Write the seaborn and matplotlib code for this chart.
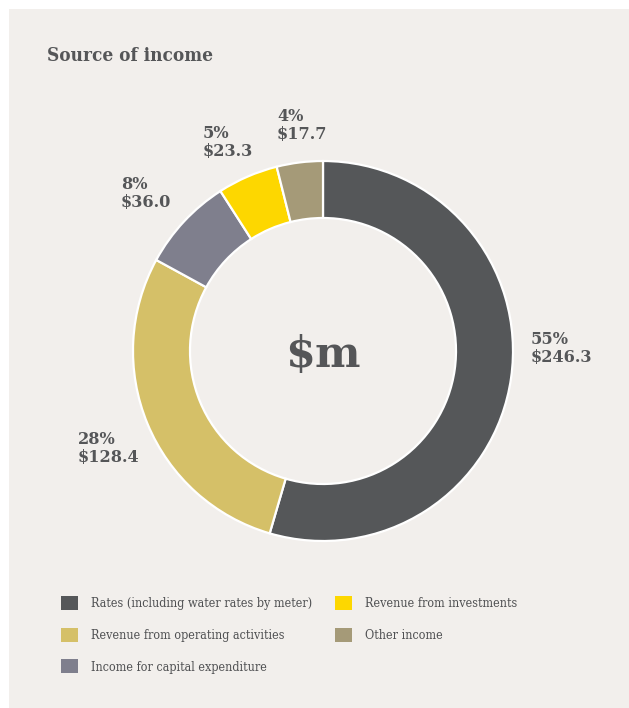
import matplotlib
matplotlib.use("Agg")
import matplotlib.pyplot as plt
from matplotlib import font_manager as fm
from matplotlib.patches import Patch, Rectangle
import seaborn as sns

# Income sources, $m
categories = [
    "Rates (including water rates by meter)",
    "Revenue from operating activities",
    "Income for capital expenditure",
    "Revenue from investments",
    "Other income",
]
amounts = [246.3, 128.4, 36.0, 23.3, 17.7]
percent_labels = ["55%", "28%", "8%", "5%", "4%"]
colors = ["#555759", "#d5c068", "#7f7f8d", "#fdd700", "#a59a78"]

title = "Source of income"
center_label = "$m"

sns.set_theme(style="white")

# Prefer a condensed slab-ish serif when one is installed
cond = [f.name for f in fm.fontManager.ttflist
        if f.name.startswith("DejaVu Serif") and f.stretch == "condensed"]
SERIF = cond[0] if cond else "DejaVu Serif"
STRETCH = "condensed" if cond else "normal"
plt.rcParams["font.family"] = [SERIF, "DejaVu Sans"]

W, H = 629, 708
fig = plt.figure(figsize=(W / 100, H / 100), dpi=100, facecolor="white")
ax = fig.add_axes([0, 0, 1, 1])

# panel background
ax.add_patch(Rectangle((9, 0), W - 9, H - 9, facecolor="#f2efec",
                       edgecolor="none", zorder=0))

palette = sns.color_palette(colors)
cx, cy, r = 323, H - 351, 190
wedges, _ = ax.pie(
    amounts,
    colors=palette,
    startangle=90,
    counterclock=False,
    center=(cx, cy),
    radius=r,
    wedgeprops=dict(width=57, edgecolor="white", linewidth=1.6),
)
ax.set_xlim(0, W)
ax.set_ylim(0, H)
ax.set_aspect("auto")
ax.axis("off")

text_color = "#555658"

def px(x, y):
    return x / W, 1 - y / H

fig.text(*px(47, 56), title, fontsize=13.6, fontweight="bold",
         fontstretch=STRETCH,
         color=text_color, va="center", ha="left")

fig.text(*px(cx, 355), center_label, fontsize=31, fontweight="bold",
         family="DejaVu Serif", fontstretch="normal",
         color=text_color, va="center", ha="center")

# value labels: (left, top) pixel anchors
label_pos = [(531, 331), (78, 431), (121, 176), (203, 125), (277, 108)]
for (x, y), pct, amt in zip(label_pos, percent_labels, amounts):
    fig.text(*px(x, y), f"{pct}\n${amt:.1f}", fontsize=11.6, fontweight="bold",
             color=text_color, va="top", ha="left", linespacing=1.1)

handles = [Patch(facecolor=c, edgecolor="none") for c in palette]
leg = fig.legend(
    handles, categories,
    loc="upper left", bbox_to_anchor=px(61, 596),
    ncol=2, frameon=False, borderpad=0, borderaxespad=0,
    handlelength=1.35, handleheight=1.35, handletextpad=1.05,
    labelspacing=1.4, columnspacing=1.8,
    prop=fm.FontProperties(family=SERIF, size=9, stretch=STRETCH),
)
for t in leg.get_texts():
    t.set_color("#4f5052")

fig.savefig("out.png", dpi=100, facecolor=fig.get_facecolor())
